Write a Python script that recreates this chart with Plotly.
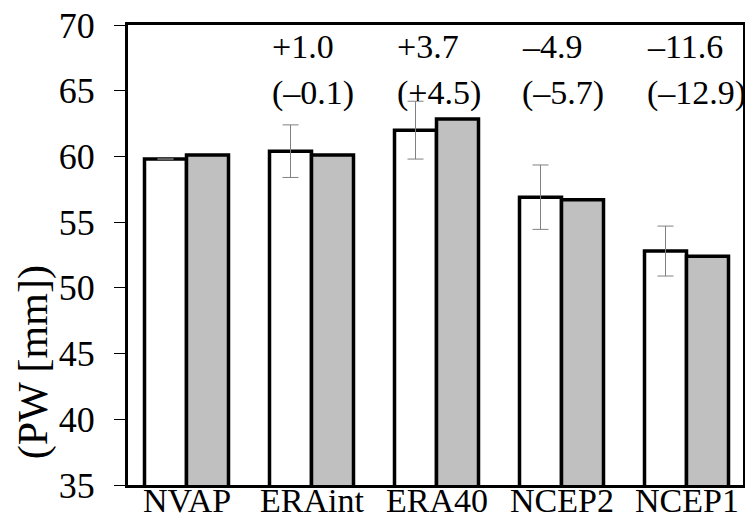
import plotly.graph_objects as go

categories = ["NVAP", "ERAint", "ERA40", "NCEP2", "NCEP1"]
white_vals = [59.8, 60.4, 62.0, 56.9, 52.8]
gray_vals = [60.1, 60.1, 62.85, 56.7, 52.4]
white_err = [None, 2.0, 2.2, 2.45, 1.9]
diff_top = ["", "+1.0", "+3.7", "–4.9", "–11.6"]
diff_bot = ["", "(–0.1)", "(+4.5)", "(–5.7)", "(–12.9)"]

FONT = "Liberation Serif"
xs = list(range(len(categories)))

fig = go.Figure()
fig.add_trace(go.Bar(
    x=xs, y=white_vals,
    marker=dict(color="white", line=dict(color="black", width=3.5)),
    error_y=dict(type="data", array=[e if e is not None else 0 for e in white_err],
                 visible=True, color="#808080", thickness=1, width=8),
    showlegend=False,
))
fig.add_trace(go.Bar(
    x=xs, y=gray_vals,
    marker=dict(color="#c0c0c0", line=dict(color="black", width=3.5)),
    showlegend=False,
))

annotations = []
for i, (t, b) in enumerate(zip(diff_top, diff_bot)):
    if t:
        annotations.append(dict(x=i - 0.33, y=68.4, xref="x", yref="y", text=t,
                                showarrow=False, xanchor="left", yanchor="middle",
                                font=dict(family=FONT, size=34, color="black")))
        annotations.append(dict(x=i - 0.33, y=64.8, xref="x", yref="y", text=b,
                                showarrow=False, xanchor="left", yanchor="middle",
                                font=dict(family=FONT, size=34, color="black")))
for i, c in enumerate(categories):
    annotations.append(dict(x=i, y=-0.0755, xref="x", yref="paper", text=c,
                            showarrow=False, xanchor="center", yanchor="bottom",
                            borderpad=0,
                            font=dict(family=FONT, size=34, color="black")))
annotations.append(dict(x=-0.1545, y=0.267, xref="paper", yref="paper", text="(PW [mm])",
                        textangle=-90, showarrow=False, xanchor="center", yanchor="middle",
                        font=dict(family=FONT, size=42, color="black")))

fig.update_layout(
    width=745, height=520,
    margin=dict(l=128, r=2, t=25, b=35),
    paper_bgcolor="white", plot_bgcolor="white",
    barmode="group", bargap=0.328, bargroupgap=0,
    font=dict(family=FONT, size=34, color="black"),
    annotations=annotations,
    xaxis=dict(range=[-0.468, 4.452], tickmode="array", tickvals=xs,
               showticklabels=False,
               showline=True, linecolor="black", linewidth=3, mirror=True,
               ticks="", showgrid=False, zeroline=False, automargin=False),
    yaxis=dict(range=[35, 70], tickmode="array", tickvals=[35, 40, 45, 50, 55, 60, 65, 70],
               showline=True, linecolor="black", linewidth=3, mirror=True,
               ticks="outside", ticklen=11, tickwidth=1, tickcolor="black",
               showgrid=False, zeroline=False, automargin=False,
               ticklabelstandoff=12,
               tickfont=dict(family=FONT, size=36, color="black")),
)

fig.write_html("out.html")
